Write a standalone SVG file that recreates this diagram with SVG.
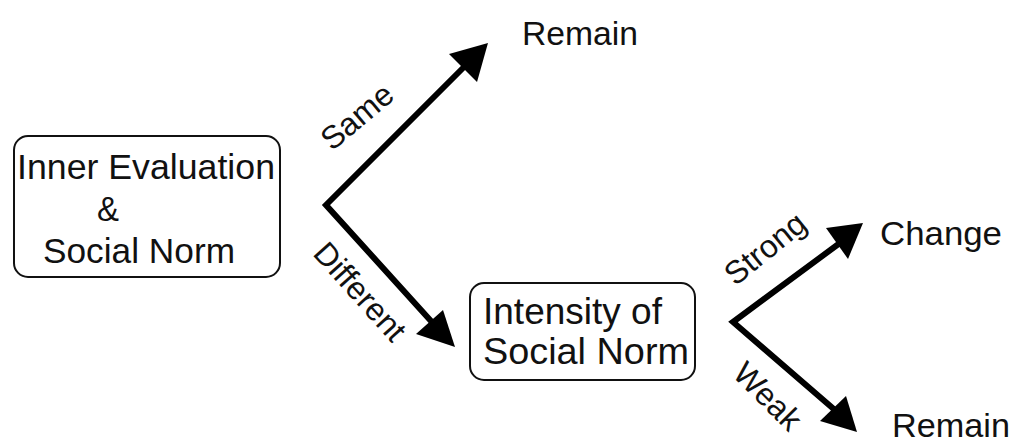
<svg xmlns="http://www.w3.org/2000/svg" width="1014" height="444" viewBox="0 0 1014 444">
  <style>
    .box { fill: #ffffff; stroke: #111111; stroke-width: 2; }
    .txt { font-family: "Liberation Sans", Arial, sans-serif; fill: #111111; }
    .edge { stroke: #000000; stroke-width: 6; fill: none; stroke-linecap: butt; stroke-linejoin: miter; }
    .head { fill: #000000; }
  </style>
  <rect width="1014" height="444" fill="#ffffff"/>

  <g id="node-inner-evaluation">
    <rect class="box" x="14" y="136" width="266" height="141" rx="14"/>
    <text class="txt" x="17" y="179" font-size="35" textLength="258" lengthAdjust="spacingAndGlyphs">Inner Evaluation</text>
    <text class="txt" x="97" y="221" font-size="35" textLength="22" lengthAdjust="spacingAndGlyphs">&amp;</text>
    <text class="txt" x="43" y="263" font-size="35" textLength="192" lengthAdjust="spacingAndGlyphs">Social Norm</text>
  </g>

  <g id="node-intensity">
    <rect class="box" x="470" y="283" width="225" height="97" rx="14"/>
    <text class="txt" x="483" y="324" font-size="37" textLength="179" lengthAdjust="spacingAndGlyphs">Intensity of</text>
    <text class="txt" x="483" y="364" font-size="37" textLength="206" lengthAdjust="spacingAndGlyphs">Social Norm</text>
  </g>

  <g id="node-remain-top">
    <text class="txt" x="522" y="45" font-size="34" textLength="116" lengthAdjust="spacingAndGlyphs">Remain</text>
  </g>
  <g id="node-change">
    <text class="txt" x="880" y="245" font-size="34" textLength="122" lengthAdjust="spacingAndGlyphs">Change</text>
  </g>
  <g id="node-remain-bottom">
    <text class="txt" x="892" y="437" font-size="34" textLength="118" lengthAdjust="spacingAndGlyphs">Remain</text>
  </g>

  <g id="connectors">
    <!-- first split: same / different -->
    <polyline class="edge" points="474,57 326,205 440,331"/>
    <polygon class="head" points="488,43 449,54 477,82"/>
    <polygon class="head" points="455,347 443,310 416,334"/>
    <!-- second split: strong / weak -->
    <polyline class="edge" points="848,237 733,322 843,417"/>
    <polygon class="head" points="863,223 826,228 848,259"/>
    <polygon class="head" points="857,432 846,396 820,421"/>

    <text class="txt" font-size="32" text-anchor="middle" transform="translate(364,125) rotate(-40)">Same</text>
    <text class="txt" font-size="32" text-anchor="middle" transform="translate(352,299) rotate(48)">Different</text>
    <text class="txt" font-size="32" text-anchor="middle" transform="translate(772,257) rotate(-39)">Strong</text>
    <text class="txt" font-size="32" text-anchor="middle" transform="translate(760,404) rotate(45)">Weak</text>
  </g>
</svg>
